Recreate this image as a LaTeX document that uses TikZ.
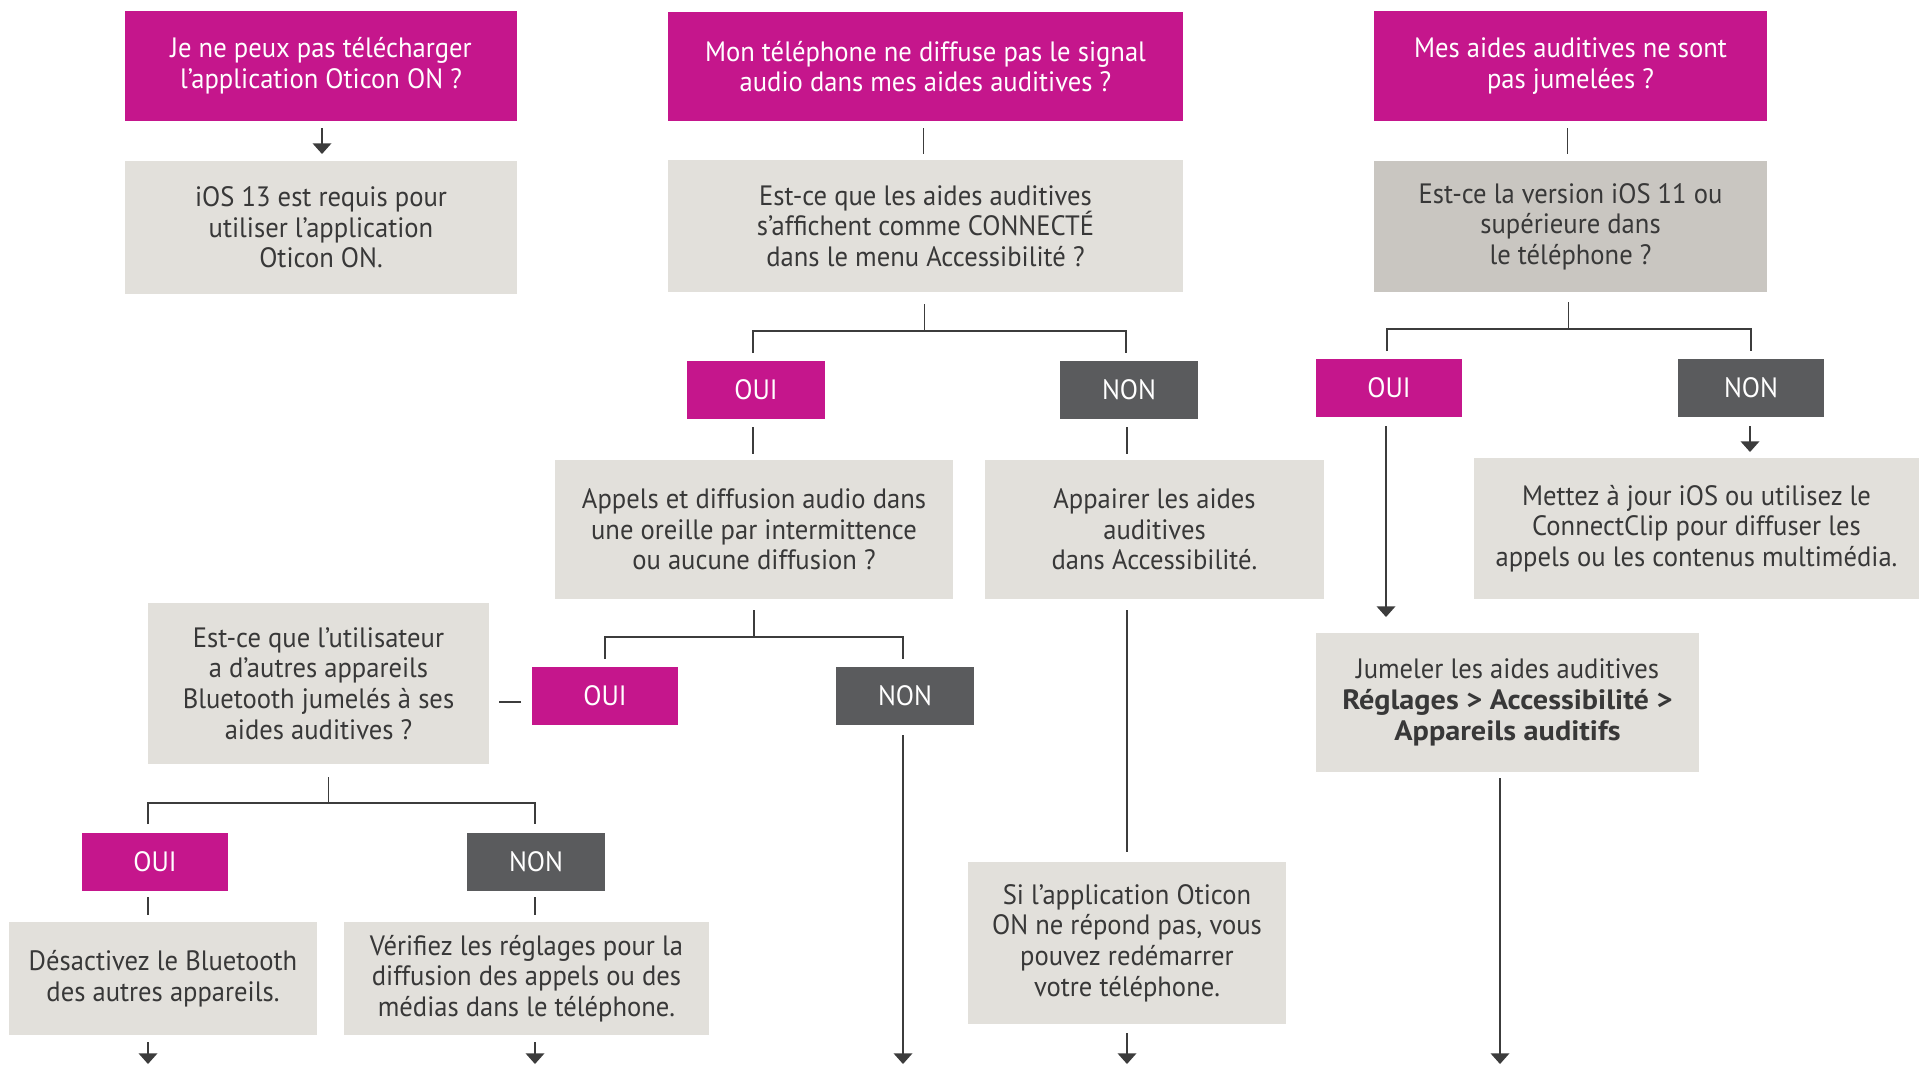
\documentclass[tikz,border=0pt]{standalone}
\usepackage{fontspec}
\setmainfont{PT Sans}[FakeStretch=0.95]
\newfontfamily\widebold{PT Sans}[FakeStretch=1.08]
\usetikzlibrary{arrows.meta,calc}
\definecolor{mag}{HTML}{C5168C}
\definecolor{nongray}{HTML}{5A5B5D}
\definecolor{boxgray}{HTML}{E2E0DB}
\definecolor{boxgraytwo}{HTML}{C9C6C1}
\definecolor{txtc}{HTML}{383838}
\definecolor{lnc}{HTML}{3C3C3C}
\newcommand\bx[7]{\node[#6, minimum width={(#4-#2)*0.75pt}, minimum height={(#5-#3)*0.75pt}] (#1) at ({(#2+#4)/2},{(#3+#5)/2}) {#7};}
\begin{document}
\begin{tikzpicture}[x=0.75pt,y=-0.75pt,
  base/.style={inner sep=0pt, outer sep=0pt, align=center, font=\fontsize{21}{23}\selectfont},
  qbox/.style={base, fill=mag, text=white},
  gbox/.style={base, fill=boxgray, text=txtc},
  gboxtwo/.style={base, fill=boxgraytwo, text=txtc},
  nbox/.style={base, fill=nongray, text=white},
  conn/.style={draw=lnc, line width=1.1pt},
  arr/.style={conn, -{Triangle[width=14pt,length=8pt]}}]
\useasboundingbox (0,0) rectangle (1919,1065);
% top row
\bx{A1}{125}{11}{517}{121}{qbox}{Je ne peux pas télécharger\\l’application Oticon ON~?}
\bx{A2}{125}{161}{517}{294}{gbox}{iOS 13 est requis pour\\utiliser l’application\\Oticon ON.}
\bx{B1}{668}{12}{1183}{121}{qbox}{Mon téléphone ne diffuse pas le signal\\audio dans mes aides auditives~?}
\bx{B2}{668}{160}{1183}{292}{gbox}{Est-ce que les aides auditives\\s’affichent comme CONNECTÉ\\dans le menu Accessibilité~?}
\bx{C1}{1374}{11}{1767}{121}{qbox}{Mes aides auditives ne sont\\pas jumelées~?}
\bx{C2}{1374}{161}{1767}{292}{gboxtwo}{Est-ce la version iOS 11 ou\\supérieure dans\\le téléphone~?}
% yes / no level 1
\bx{Boui}{687}{361}{825}{419}{qbox}{OUI}
\bx{Bnon}{1060}{361}{1198}{419}{nbox}{NON}
\bx{Coui}{1316}{359}{1462}{417}{qbox}{OUI}
\bx{Cnon}{1678}{359}{1824}{417}{nbox}{NON}
% level 2
\bx{B3}{555}{460}{953}{599}{gbox}{Appels et diffusion audio dans\\une oreille par intermittence\\ou aucune diffusion~?}
\bx{B4}{985}{460}{1324}{599}{gbox}{Appairer les aides\\auditives\\dans Accessibilité.}
\bx{G}{1474}{458}{1919}{599}{gbox}{Mettez à jour iOS ou utilisez le\\ConnectClip pour diffuser les\\appels ou les contenus multimédia.}
\bx{D1}{148}{603}{489}{764}{gbox}{Est-ce que l’utilisateur\\a d’autres appareils\\Bluetooth jumelés à ses\\aides auditives~?}
\bx{B3oui}{532}{667}{678}{725}{qbox}{OUI}
\bx{B3non}{836}{667}{974}{725}{nbox}{NON}
\bx{H}{1316}{633}{1699}{772}{gbox}{Jumeler les aides auditives\\{\widebold\bfseries Réglages > Accessibilité >}\\{\widebold\bfseries Appareils auditifs}}
\bx{F}{968}{862}{1286}{1024}{gbox}{Si l’application Oticon\\ON ne répond pas, vous\\pouvez redémarrer\\votre téléphone.}
\bx{Doui}{82}{833}{228}{891}{qbox}{OUI}
\bx{Dnon}{467}{833}{605}{891}{nbox}{NON}
\bx{E1}{9}{922}{317}{1035}{gbox}{Désactivez le Bluetooth\\des autres appareils.}
\bx{E2}{344}{922}{709}{1035}{gbox}{Vérifiez les réglages pour la\\diffusion des appels ou des\\médias dans le téléphone.}
% connectors
\draw[arr] ($(A1.south)+(1,7)$) -- ($(A2.north)+(1,-7)$);
\draw[conn] ($(B1.south)+(-2,7)$) -- ($(B2.north)+(-2,-6)$);
\draw[conn] ($(C1.south)+(-3,7)$) -- ($(C2.north)+(-3,-7)$);
% B2 tree
\draw[conn] ($(B2.south)+(-1,12)$) -- ($(B2.south)+(-1,39)$);
\draw[conn] ($(Boui.north)+(-3,-8)$) -- ($(Boui.north)+(-3,-30)$) -| ($(Bnon.north)+(-3,-8)$);
\draw[conn] ($(Boui.south)+(-3,8)$) -- ($(B3.north)+(-1,-6)$);
\draw[conn] ($(Bnon.south)+(-2,8)$) -- ($(Bnon.south)+(-2,35)$);
% C2 tree
\draw[conn] ($(C2.south)+(-2,10)$) -- ($(C2.south)+(-2,37)$);
\draw[conn] ($(Coui.north)+(-2,-8)$) -- ($(Coui.north)+(-2,-30)$) -| ($(Cnon.north)+(0,-8)$);
\draw[arr] ($(Coui.south)+(-3,9)$) -- ($(Coui.south |- H.north)+(-3,-16)$);
\draw[arr] ($(Cnon.south)+(-1,9)$) -- ($(Cnon.south |- G.north)+(-1,-6)$);
% B3 tree
\draw[conn] ($(B3.south)+(0,11)$) -- ($(B3.south)+(0,38)$);
\draw[conn] ($(B3oui.north)+(0,-8)$) -- ($(B3oui.north)+(0,-30)$) -| ($(B3non.north)+(-2,-8)$);
\draw[conn] ($(B3oui.west)+(-11,6)$) -- ($(B3oui.west)+(-33,6)$);
\draw[arr] ($(B3non.south)+(-2,10)$) -- ($(B3non.south)+(-2,339)$);
% B4 / F
\draw[conn] ($(F.north |- B4.south)+(0,11)$) -- ($(F.north)+(0,-10)$);
\draw[arr] ($(F.south)+(0,9)$) -- ($(F.south)+(0,40)$);
% H
\draw[arr] ($(H.south)+(-7.5,6)$) -- ($(H.south)+(-7.5,292)$);
% D1 tree
\draw[conn] ($(D1.south)+(10,13)$) -- ($(D1.south)+(10,39)$);
\draw[conn] ($(D1.south west)+(0,60)$) -- ($(D1.south west)+(0,39)$) -| ($(Dnon.north)+(-1,-9)$);
\draw[conn] ($(Doui.south)+(-7,6)$) -- ($(E1.north)+(-15,-7)$);
\draw[conn] ($(Dnon.south)+(-1,6)$) -- ($(Dnon.south)+(-1,24)$);
\draw[arr] ($(E1.south)+(-15,7)$) -- ($(E1.south)+(-15,29)$);
\draw[arr] ($(E2.south)+(8.5,7)$) -- ($(E2.south)+(8.5,29)$);
\end{tikzpicture}
\end{document}
